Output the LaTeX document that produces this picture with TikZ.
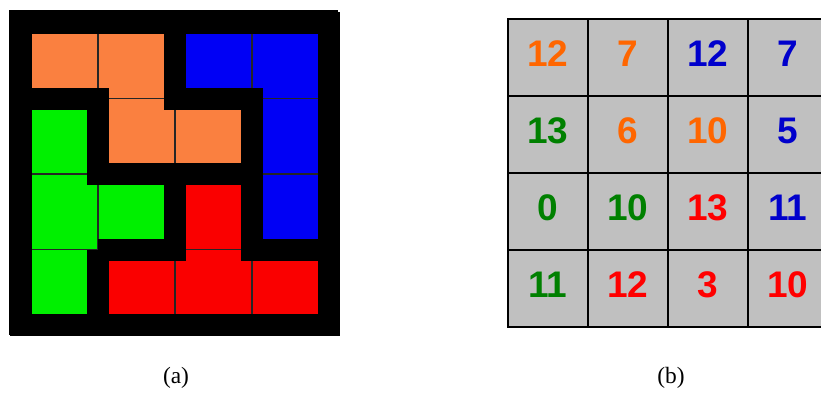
\documentclass[tikz,border=0pt]{standalone}
\usepackage{fontspec}
\setmainfont{Liberation Serif}
\newfontfamily\digitfont{Liberation Sans}
\usetikzlibrary{positioning}
\definecolor{pieceorange}{RGB}{250,128,64}
\definecolor{pieceblue}{RGB}{0,0,245}
\definecolor{piecegreen}{RGB}{0,240,0}
\definecolor{piecered}{RGB}{250,0,0}
\definecolor{numorange}{RGB}{255,102,0}
\definecolor{numblue}{RGB}{0,0,204}
\definecolor{numgreen}{RGB}{0,128,0}
\definecolor{numred}{RGB}{255,0,0}
\definecolor{cellgray}{RGB}{192,192,192}
\tikzset{
    % value cells of the table (b)
    numcell/.style={
        draw=black, fill=cellgray, line width=0.9pt,
        minimum width=40pt, minimum height=38.5pt, inner sep=0pt,
        text depth=4pt, font=\digitfont\fontsize{18.5}{18.5}\selectfont\bfseries
    },
    caption/.style={font=\fontsize{11.7}{14}\selectfont},
    % puzzle pieces (a)
    cellline/.style={draw=black!85, line width=0.9pt},
    piecegap/.style={line width=11pt, line cap=square, line join=miter, black},
}

\begin{document}
\begin{tikzpicture}[x=0.5pt,y=-0.5pt]
  \clip (0,0) rectangle (821,392);
  \fill[white] (0,0) rectangle (821,392);

  % (a) tiling of the 4x4 board
  \fill[black] (9,10) rectangle (338,335);
  \begin{scope}[shift={(21,23)}, x=38.5pt, y=-37.75pt]
    \foreach \r/\c/\col in {0/0/pieceorange, 0/1/pieceorange, 1/1/pieceorange, 1/2/pieceorange,
                            0/2/pieceblue, 0/3/pieceblue, 1/3/pieceblue, 2/3/pieceblue,
                            1/0/piecegreen, 2/0/piecegreen, 3/0/piecegreen, 2/1/piecegreen,
                            2/2/piecered, 3/1/piecered, 3/2/piecered, 3/3/piecered}
      \filldraw[fill=\col, cellline] (\c,\r) rectangle ++(1,1);
    % black gaps between the pieces
    \draw[piecegap] (0,0) rectangle (4,4);
    \draw[piecegap] (0,1) -- (1,1) -- (1,2) -- (3,2)
                    (2,0) -- (2,1) -- (3,1) -- (3,3) -- (4,3)
                    (1,3) -- (2,3) -- (2,2)
                    (1,3) -- (1,4);
  \end{scope}

  % (b) values of the cells
  \foreach \r/\c/\v/\col in {0/0/12/numorange, 0/1/7/numorange, 0/2/12/numblue, 0/3/7/numblue,
                             1/0/13/numgreen, 1/1/6/numorange, 1/2/10/numorange, 1/3/5/numblue,
                             2/0/0/numgreen, 2/1/10/numgreen, 2/2/13/numred, 2/3/11/numblue,
                             3/0/11/numgreen, 3/1/12/numred, 3/2/3/numred, 3/3/10/numred}
    \node[numcell, text=\col] (n\r\c) at ({548+80*\c},{57.5+77*\r}) {\v};

  \node[caption] (capa) at (176,378) {(a)};
  \node[caption] (capb) at (671,378) {(b)};
\end{tikzpicture}
\end{document}
